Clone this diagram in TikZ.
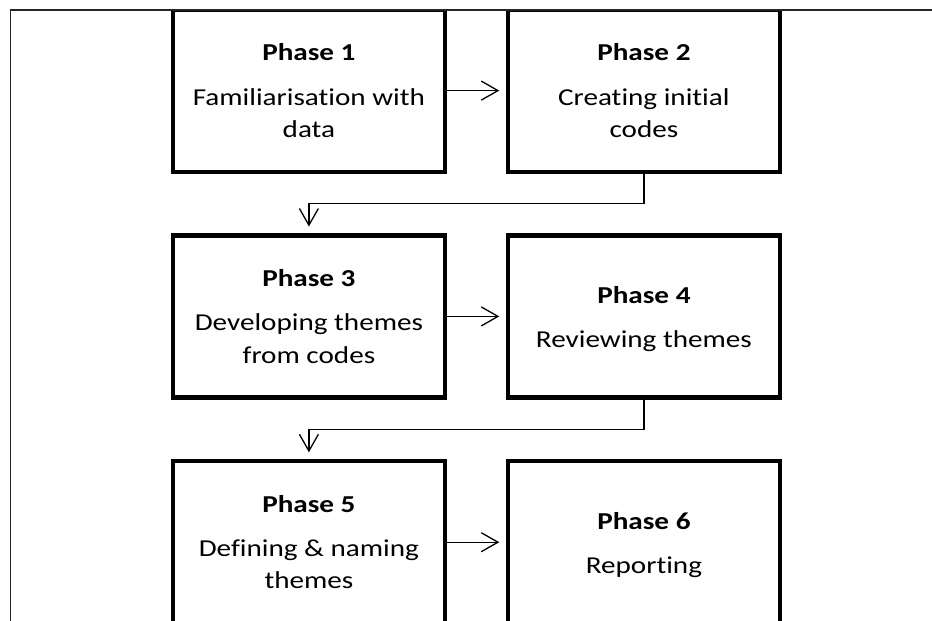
\documentclass[tikz,border=0pt]{standalone}
\usepackage{fontspec}
\setmainfont{Carlito}[FakeStretch=1.2, Ligatures=NoCommon]
\usetikzlibrary{arrows.meta}

\tikzset{
  phasebox/.style={draw, line width=4.5pt, minimum width=271.7pt, minimum height=162.3pt, inner sep=0pt},
  heading/.style={font=\bfseries\fontsize{24.3}{29}\selectfont, anchor=base, inner sep=0pt},
  bodytext/.style={font=\fontsize{24.3}{29}\selectfont, anchor=base, inner sep=0pt},
  flow/.style={line width=1.3pt, -{Straight Barb[length=16.7pt, width=19pt, line width=1.3pt]}, shorten >=6.5pt},
  frameline/.style={line width=1.8pt, black!85}
}

\begin{document}
\begin{tikzpicture}[x=1pt, y=-1pt]
  \useasboundingbox (0,0) rectangle (932,621);

  \begin{scope}
    \clip (0,9) rectangle (932,621);
    % phase boxes
    \node[phasebox] (b1) at (308.9, 90.6) {};
    \node[phasebox] (b2) at (643.9, 90.6) {};
    \node[phasebox] (b3) at (308.9, 316.4) {};
    \node[phasebox] (b4) at (643.9, 316.4) {};
    \node[phasebox] (b5) at (308.9, 542.2) {};
    \node[phasebox] (b6) at (643.9, 542.2) {};

    % phase texts
    \node[heading]  (h1)  at (308.9, 60.7) {Phase 1};
    \node[bodytext] (t1a) at (308.9, 105.0) {Familiarisation with};
    \node[bodytext] (t1b) at (308.9, 137.3) {data};

    \node[heading]  (h2)  at (643.9, 60.7) {Phase 2};
    \node[bodytext] (t2a) at (643.9, 105.0) {Creating initial};
    \node[bodytext] (t2b) at (643.9, 137.3) {codes};

    \node[heading]  (h3)  at (308.9, 286.5) {Phase 3};
    \node[bodytext] (t3a) at (308.9, 330.8) {Developing themes};
    \node[bodytext] (t3b) at (308.9, 363.1) {from codes};

    \node[heading]  (h4)  at (643.9, 303.5) {Phase 4};
    \node[bodytext] (t4a) at (643.9, 347.8) {Reviewing themes};

    \node[heading]  (h5)  at (308.9, 512.3) {Phase 5};
    \node[bodytext] (t5a) at (308.9, 556.6) {Defining \& naming};
    \node[bodytext] (t5b) at (308.9, 588.9) {themes};

    \node[heading]  (h6)  at (643.9, 529.3) {Phase 6};
    \node[bodytext] (t6a) at (643.9, 573.6) {Reporting};

    % connectors
    \draw[flow] (b1.east) -- (b2.west);
    \draw[flow] (b3.east) -- (b4.west);
    \draw[flow] (b5.east) -- (b6.west);
    \draw[flow] (b2.south) -- ++(0,29.5) -| (b3.north);
    \draw[flow] (b4.south) -- ++(0,29.5) -| (b5.north);
  \end{scope}

  % page frame lines
  \coordinate (fa) at (10.5,621);
  \coordinate (fb) at (10.5,10);
  \coordinate (fc) at (932,10);
  \draw[frameline] (fa) -- (fb) -- (fc);
\end{tikzpicture}
\end{document}
